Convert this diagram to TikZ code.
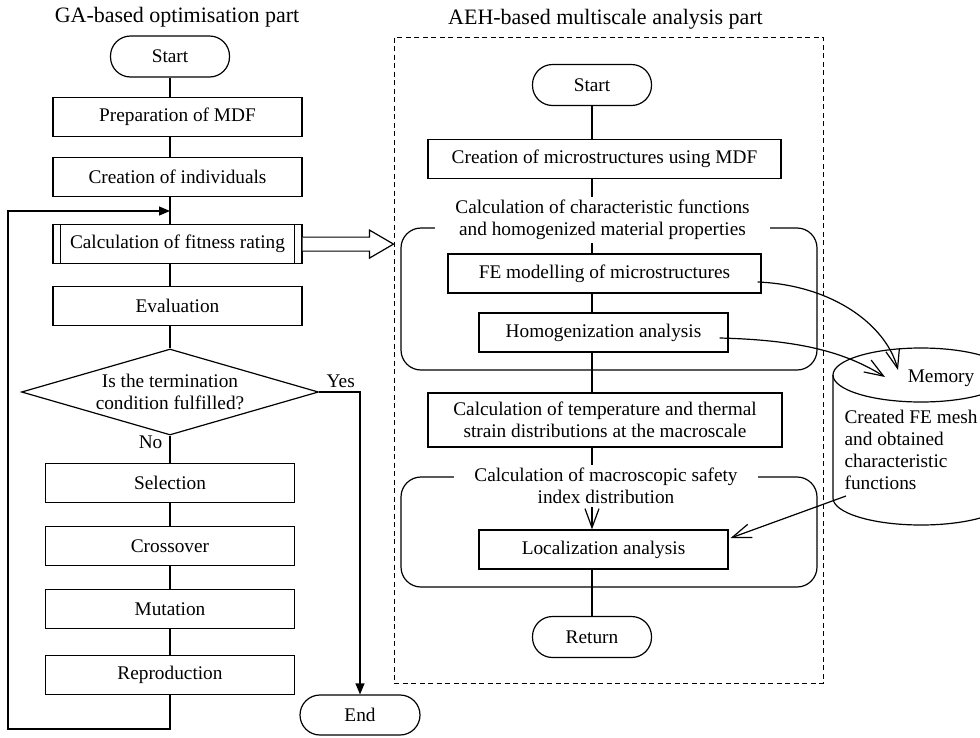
\documentclass[tikz,border=0pt]{standalone}
\usepackage{fontspec}
\setmainfont{Liberation Serif}
\usepackage{tikz}
\usetikzlibrary{shapes.geometric, arrows.meta, positioning}
\newcommand{\bodysize}{\fontsize{19.3pt}{22pt}\selectfont}
\newcommand{\titlesize}{\fontsize{22pt}{26pt}\selectfont}

\begin{document}
\begin{tikzpicture}[
    x=1pt, y=-1pt, line width=1.2pt,
    box/.style={rectangle, draw, minimum width=249pt, minimum height=39pt,
                inner sep=0pt, align=center, font=\bodysize},
    term/.style={rectangle, draw, rounded corners=20pt, minimum width=119pt,
                 minimum height=41pt, inner sep=0pt, font=\bodysize},
    dec/.style={diamond, draw, aspect=3.45, inner sep=0pt, minimum width=297pt,
                minimum height=86pt, align=center, font=\bodysize},
    region/.style={rectangle, draw, rounded corners=20pt},
    grptitle/.style={fill=white, inner xsep=20pt, inner ysep=3pt, align=center, font=\bodysize},
    frame/.style={rectangle, draw, line width=1pt, dash pattern=on 5pt off 3.5pt},
    lbl/.style={inner sep=0pt, font=\bodysize},
    ttl/.style={anchor=base, font=\titlesize},
    arr/.style={-{Triangle[length=11pt,width=9pt]}},
    barb/.style={-{Straight Barb[length=19pt,width=14pt]}},
    hollow/.style={fill=white}
]
\useasboundingbox (0,0) rectangle (980,737);

\node[ttl] (gatitle)  at (177,22)   {GA-based optimisation part};
\node[ttl] (aehtitle) at (605.5,24) {AEH-based multiscale analysis part};

\node[term] (start) at (170,56.5) {Start};
\node[box, below=19pt of start, xshift=7.5pt] (prep) {Preparation of MDF};
\node[box, below=20pt of prep] (indiv) {Creation of individuals};
\node[box, below=27pt of indiv] (fitness) {Calculation of fitness rating};
\node[box, below=22pt of fitness] (eval) {Evaluation};
\node[dec, below=22pt of eval, xshift=-7.5pt] (decision) {Is the termination\\condition fulfilled?};
\node[box, below=27pt of decision] (sel) {Selection};
\node[box, below=23pt of sel] (cross) {Crossover};
\node[box, below=23pt of cross] (mut) {Mutation};
\node[box, below=26pt of mut] (repro) {Reproduction};
\node[term, minimum width=120pt, minimum height=40pt] (endnode) at (360,715) {End};

\node[lbl, above right=4pt and 7pt of decision.east] (yes) {Yes};
\node[lbl, below left=0pt and 7pt of decision.south] (no) {No};

\draw ([xshift=8pt]fitness.north west) -- ([xshift=8pt]fitness.south west);
\draw ([xshift=-8pt]fitness.north east) -- ([xshift=-8pt]fitness.south east);

\node[frame, minimum width=429pt, minimum height=646pt] (aehframe) at (608.5,360) {};
\node[region, minimum width=416pt, minimum height=142pt] (hgroup) at (609,299) {};
\node[region, minimum width=416pt, minimum height=110pt] (lgroup) at (609,532) {};

\node[term] (rstart) at (592,85) {Start};
\node[box, minimum width=353pt, below=33pt of rstart, xshift=12.5pt] (micro) {Creation of microstructures using MDF};
\node[grptitle] (calc1) at (602.5,220) {Calculation of characteristic functions\\and homogenized material properties};
\node[box, minimum width=313pt] (fe) at (604.5,273.5) {FE modelling of microstructures};
\node[box] (homog) at (603.5,332.5) {Homogenization analysis};
\node[box, minimum width=354pt, minimum height=54pt] (temp) at (605,420) {Calculation of temperature and thermal\\strain distributions at the macroscale};
\node[grptitle] (calc2) at (606,486) {Calculation of macroscopic safety\\index distribution};
\node[box] (local) at (603.5,549.5) {Localization analysis};
\node[term] (rret) at (592,637) {Return};

\draw (921,375) ellipse[x radius=88, y radius=27];
\draw (833,375) -- (833,498) arc[start angle=180, end angle=0, x radius=88, y radius=27] -- (1009,375);
\node[lbl] (memlbl) at (941,378) {Memory};
\node[lbl, anchor=west, align=left] (memtxt) at (844,450) {Created FE mesh\\and obtained\\characteristic\\functions};

\coordinate (loopbot) at (8,729);
\coordinate (loopin) at (170,211);
\coordinate (hollowtip) at (fitness.east -| aehframe.west);
\coordinate (memin1) at (898,370);
\coordinate (memin2) at (885,377);
\coordinate (memout) at (846,496);

\draw (start) -- (start |- prep.north);
\draw (prep.south -| start) -- (indiv.north -| start);
\draw (indiv.south -| start) -- (fitness.north -| start);
\draw (fitness.south -| start) -- (eval.north -| start);
\draw (eval.south -| start) -- (decision);
\draw (decision) -- (sel);
\draw (sel) -- (cross);
\draw (cross) -- (mut);
\draw (mut) -- (repro);
\draw[arr] (repro.south) |- (loopbot) |- (loopin);
\draw[arr] (decision.east) -| (endnode.north);

\draw[hollow] ([yshift=7pt]fitness.east) -- ([shift={(-24pt,7pt)}]hollowtip) -- ([shift={(-24pt,14pt)}]hollowtip)
    -- (hollowtip) -- ([shift={(-24pt,-14pt)}]hollowtip) -- ([shift={(-24pt,-7pt)}]hollowtip) -- ([yshift=-7pt]fitness.east);

\draw (rstart) -- (rstart |- micro.north);
\draw (micro.south -| rstart) -- (calc1.north -| rstart);
\draw (calc1.south -| rstart) -- (fe.north -| rstart);
\draw (fe.south -| rstart) -- (homog.north -| rstart);
\draw (homog.south -| rstart) -- (temp.north -| rstart);
\draw (temp.south -| rstart) -- (calc2.north -| rstart);
\draw[barb] (calc2.south -| rstart) -- (local.north -| rstart);
\draw (local.south -| rstart) -- (rret);

\draw[barb] ([shift={(-4pt,-8.5pt)}]fe.east) .. controls +(75,3) and +(-12,-45) .. (memin1);
\draw[barb] ([shift={(-9pt,-5.5pt)}]homog.east) .. controls +(80,2) and +(-40,-25) .. (memin2);
\draw[barb] (memout) -- ([shift={(2pt,11.5pt)}]local.east);

\end{tikzpicture}
\end{document}
